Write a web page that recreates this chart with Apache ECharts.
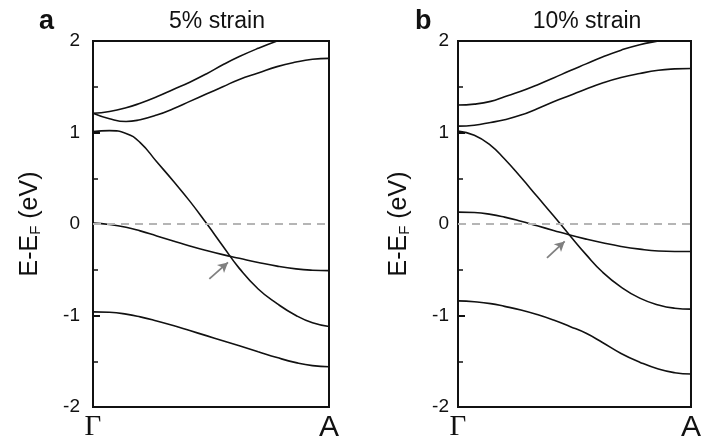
<!DOCTYPE html>
<html>
<head>
<meta charset="utf-8">
<script src="https://cdn.jsdelivr.net/npm/echarts@6/dist/echarts.min.js"></script>
<style>
  html, body { margin: 0; padding: 0; background: #fff; }
  #main { width: 704px; height: 443px; }
</style>
</head>
<body>
<div id="main"></div>
<script>
// k-path position from Gamma (0) to A (1)
var kpath = [0, 0.07, 0.14, 0.2, 0.27, 0.34, 0.41, 0.48, 0.55, 0.62, 0.7, 0.78, 0.86, 0.93, 1];

// 5% strain bands (eV)
var a_band1 = [1.21, 1.23, 1.27, 1.32, 1.39, 1.47, 1.55, 1.64, 1.74, 1.83, 1.92, 2.0, 2.07, 2.12, 2.15];
var a_band2 = [1.21, 1.15, 1.12, 1.14, 1.19, 1.26, 1.34, 1.42, 1.50, 1.58, 1.65, 1.72, 1.77, 1.80, 1.81];
var a_band3 = [1.01, 1.02, 0.99, 0.89, 0.68, 0.47, 0.25, 0.01, -0.24, -0.485, -0.71, -0.87, -1.00, -1.08, -1.12];
var a_band4 = [0.01, -0.005, -0.035, -0.075, -0.13, -0.185, -0.24, -0.29, -0.335, -0.375, -0.42, -0.46, -0.49, -0.505, -0.51];
var a_band5 = [-0.96, -0.965, -0.985, -1.015, -1.06, -1.11, -1.165, -1.22, -1.275, -1.33, -1.395, -1.46, -1.515, -1.548, -1.56];

// 10% strain bands (eV)
var b_band1 = [1.30, 1.31, 1.34, 1.39, 1.45, 1.52, 1.595, 1.675, 1.75, 1.825, 1.90, 1.96, 2.0, 2.035, 2.05];
var b_band2 = [1.07, 1.08, 1.11, 1.14, 1.19, 1.26, 1.335, 1.405, 1.475, 1.54, 1.60, 1.645, 1.68, 1.695, 1.70];
var b_band3 = [1.015, 0.97, 0.86, 0.71, 0.51, 0.30, 0.09, -0.125, -0.335, -0.525, -0.69, -0.81, -0.885, -0.92, -0.93];
var b_band4 = [0.13, 0.125, 0.105, 0.075, 0.03, -0.02, -0.07, -0.12, -0.165, -0.205, -0.245, -0.275, -0.295, -0.30, -0.30];
var b_band5 = [-0.84, -0.85, -0.87, -0.90, -0.94, -0.99, -1.05, -1.12, -1.195, -1.295, -1.415, -1.51, -1.585, -1.625, -1.64];

// arrows pointing at the crossing: [[k, E], [k, E]]
var a_arrow = [[0.493, -0.60], [0.572, -0.42]];
var b_arrow = [[0.382, -0.37], [0.458, -0.19]];

var yTicks = [-2, -1, 0, 1, 2];

function pairs(vals) {
    return kpath.map(function (k, i) { return [k, vals[i]]; });
}

function bandSeries(vals, idx) {
    return {
        type: 'line',
        xAxisIndex: idx,
        yAxisIndex: idx,
        data: pairs(vals),
        smooth: 0.5,
        symbol: 'none',
        clip: true,
        lineStyle: { color: '#111', width: 1.6 },
        z: 3
    };
}

function extraSeries(idx, arrow) {
    // Fermi level and arrow
    return {
        type: 'line',
        xAxisIndex: idx,
        yAxisIndex: idx,
        data: [],
        markLine: {
            silent: true,
            animation: false,
            label: { show: false },
            data: [
                [{ coord: [0, 0], symbol: 'none', lineStyle: { color: '#b5b5b5', type: [8, 6], width: 2 } },
                 { coord: [1, 0], symbol: 'none' }],
                [{ coord: arrow[0], symbol: 'none', lineStyle: { color: '#808080', type: 'solid', width: 1.8 } },
                 { coord: arrow[1], symbol: 'arrow', symbolSize: [8, 10] }]
            ]
        },
        z: 2
    };
}

function xAxisOpt(idx) {
    return {
        type: 'value',
        gridIndex: idx,
        min: 0,
        max: 1,
        interval: 1,
        axisLine: { show: true, onZero: false, lineStyle: { color: '#111', width: 2 } },
        axisTick: { show: false },
        splitLine: { show: false },
        axisLabel: {
            showMinLabel: true,
            showMaxLabel: true,
            margin: 6,
            formatter: function (v) { return v === 0 ? '{g|Γ}' : '{a|A}'; },
            rich: {
                g: { fontFamily: 'Liberation Serif', fontSize: 29, color: '#111' },
                a: { fontFamily: 'Liberation Sans', fontSize: 30, color: '#111' }
            }
        }
    };
}

function yAxisOpt(idx, margin, gap) {
    return {
        type: 'value',
        gridIndex: idx,
        min: -2,
        max: 2,
        interval: 1,
        name: '{e|E-E}{s|F}{e| (eV)}',
        nameLocation: 'middle',
        nameGap: gap,
        nameRotate: 90,
        nameTextStyle: {
            rich: {
                e: { fontFamily: 'Liberation Sans', fontSize: 25, color: '#111' },
                s: { fontFamily: 'Liberation Sans', fontSize: 15, color: '#111', padding: [10, 0, 0, 0] }
            }
        },
        axisLine: { show: true, onZero: false, lineStyle: { color: '#111', width: 2 } },
        axisTick: { show: true, inside: true, length: 7, lineStyle: { color: '#111', width: 2 } },
        minorTick: { show: true, splitNumber: 2, length: 5, lineStyle: { color: '#111', width: 1.5 } },
        splitLine: { show: false },
        axisLabel: {
            margin: margin,
            fontFamily: 'Liberation Sans',
            fontSize: 19,
            color: '#111',
            formatter: function (v) { return yTicks.indexOf(v) >= 0 ? String(v) : ''; }
        }
    };
}

var myChart = echarts.init(document.getElementById('main'));
var option = {
    backgroundColor: '#fff',
    animation: false,
    title: [
        { text: '5% strain', left: 212, top: 5, textAlign: 'center',
          textStyle: { fontFamily: 'Liberation Sans', fontSize: 23, fontWeight: 'normal', color: '#111' } },
        { text: '10% strain', left: 582, top: 5, textAlign: 'center',
          textStyle: { fontFamily: 'Liberation Sans', fontSize: 23, fontWeight: 'normal', color: '#111' } },
        { text: 'a', left: 34, top: 3,
          textStyle: { fontFamily: 'Liberation Sans', fontSize: 27, fontWeight: 'bold', color: '#111' } },
        { text: 'b', left: 410, top: 3,
          textStyle: { fontFamily: 'Liberation Sans', fontSize: 27, fontWeight: 'bold', color: '#111' } }
    ],
    grid: [
        { left: 93, top: 41, width: 236, height: 366, show: true, borderColor: '#111', borderWidth: 2, backgroundColor: 'transparent' },
        { left: 458, top: 41, width: 234, height: 366, show: true, borderColor: '#111', borderWidth: 2, backgroundColor: 'transparent' }
    ],
    xAxis: [xAxisOpt(0), xAxisOpt(1)],
    yAxis: [yAxisOpt(0, 13, 50), yAxisOpt(1, 9, 46)],
    series: [
        extraSeries(0, a_arrow),
        bandSeries(a_band1, 0),
        bandSeries(a_band2, 0),
        bandSeries(a_band3, 0),
        bandSeries(a_band4, 0),
        bandSeries(a_band5, 0),
        extraSeries(1, b_arrow),
        bandSeries(b_band1, 1),
        bandSeries(b_band2, 1),
        bandSeries(b_band3, 1),
        bandSeries(b_band4, 1),
        bandSeries(b_band5, 1)
    ]
};
myChart.setOption(option);
</script>
</body>
</html>
